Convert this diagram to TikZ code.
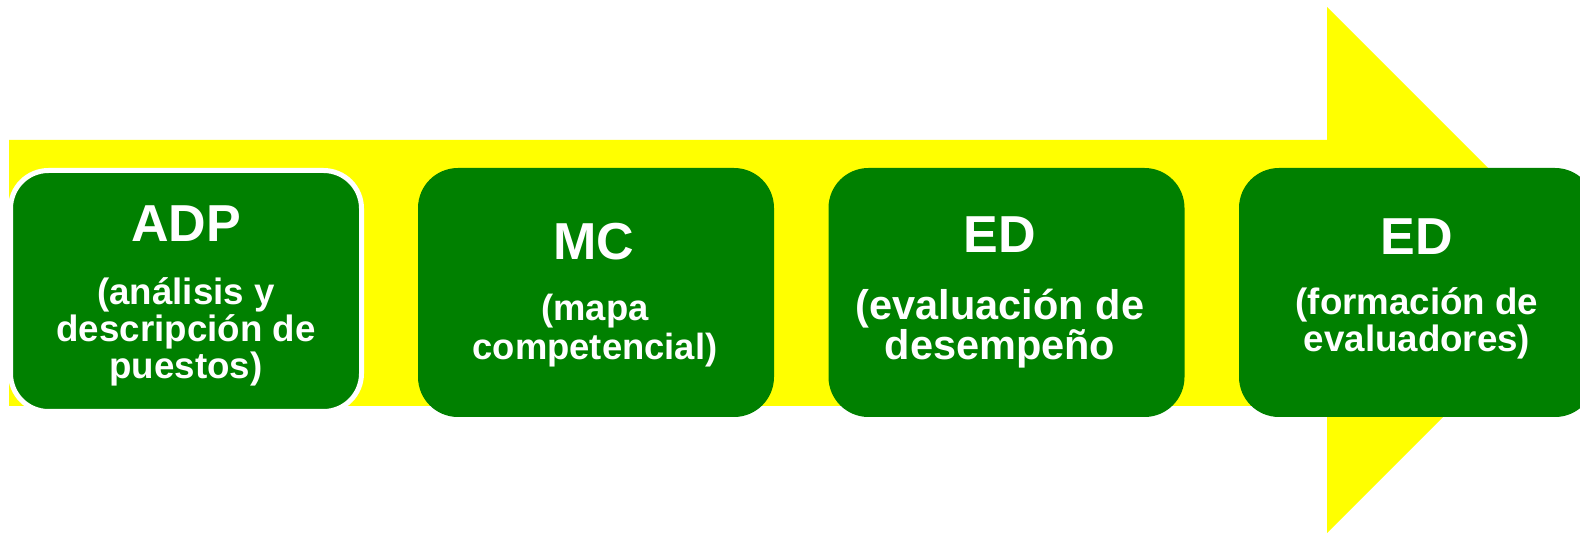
\documentclass[tikz,border=0pt]{standalone}
\usepackage{fontspec}
\setmainfont{Liberation Sans}
\definecolor{arrowyellow}{RGB}{255,255,0}
\definecolor{boxgreen}{RGB}{0,128,0}
\begin{document}
\begin{tikzpicture}[x=1pt,y=-1pt,
  stagebox/.style={fill=boxgreen, rounded corners=40pt, minimum width=356pt, minimum height=249pt, inner sep=0pt},
  titletext/.style={text=white, font=\fontsize{52}{52}\selectfont\bfseries, inner sep=0pt, anchor=base},
  subtext/.style={text=white, align=center, inner sep=0pt, anchor=base, font=\fontsize{36.7}{37}\selectfont\bfseries}]
\useasboundingbox (0,0) rectangle (1580,534);
\clip (0,0) rectangle (1580,534);
% big yellow arrow
\fill[arrowyellow] (9,140) -- (1327,140) -- (1327,7) -- (1590,270) -- (1327,533) -- (1327,406) -- (9,406) -- cycle;
% boxes
\node[stagebox, draw=white, line width=5pt, minimum width=351pt, minimum height=241pt, rounded corners=38pt] (b1) at (186,291) {};
\node[stagebox] (b2) at (596,292.5) {};
\node[stagebox] (b3) at (1006.5,292.5) {};
\node[stagebox] (b4) at (1417,292.5) {};
% texts
\node[titletext] (t1) at (186,242) {ADP};
\node[subtext] (s1) at (186,379) {(análisis y\\descripción de\\puestos)};
\node[titletext] (t2) at (594,260) {MC};
\node[subtext, font=\fontsize{36.4}{39}\selectfont\bfseries] (s2) at (595,360) {(mapa\\competencial)};
\node[titletext] (t3) at (1000,253) {ED};
\node[subtext, font=\fontsize{41.5}{40}\selectfont\bfseries] (s3) at (1000,360) {(evaluación de\\desempeño};
\node[titletext] (t4) at (1417,255) {ED};
\node[subtext] (s4) at (1417,352) {(formación de\\evaluadores)};
\end{tikzpicture}
\end{document}
